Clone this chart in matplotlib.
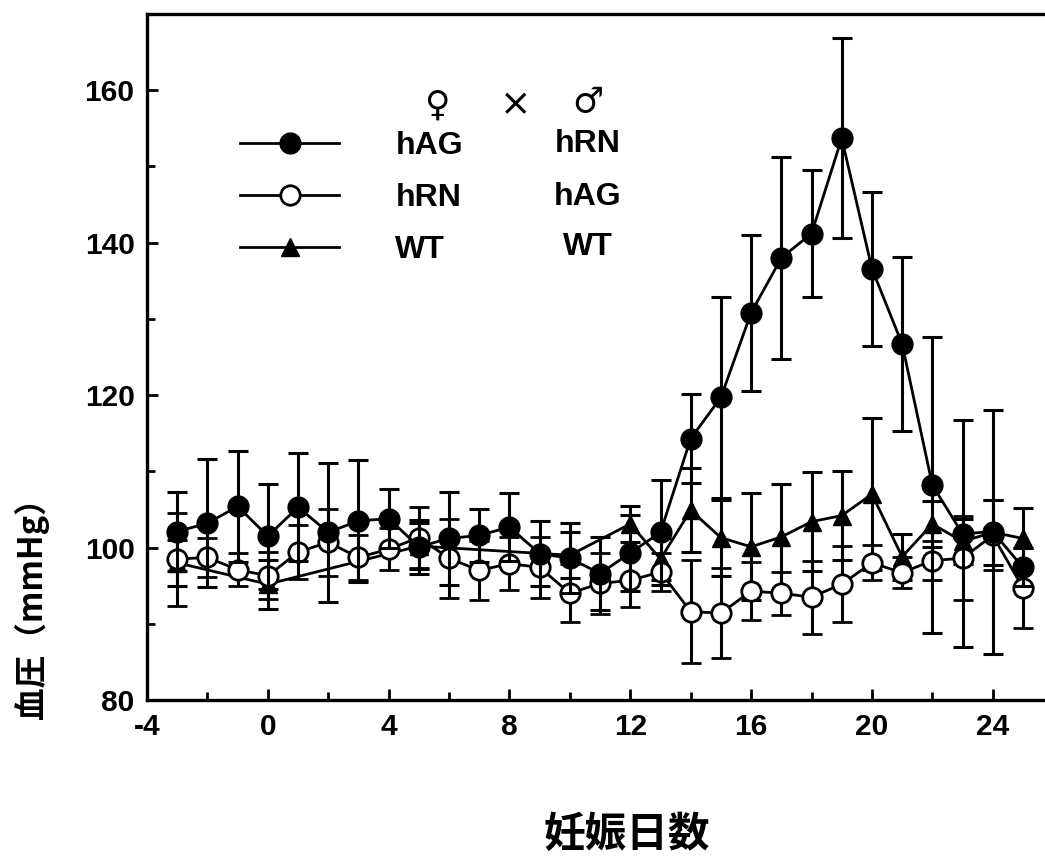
import matplotlib.pyplot as plt
from matplotlib.lines import Line2D
from matplotlib.ticker import MultipleLocator

# --- data ---
days = list(range(-3, 26))

# hAG (female) x hRN (male)  -> filled circles
bp_ag_rn = [102.1, 103.2, 105.4, 101.5, 105.3, 102.0, 103.5, 103.8, 100.1, 101.2,
            101.6, 102.7, 99.2, 98.6, 96.6, 99.3, 102.0, 114.3, 119.7, 130.8,
            138.0, 141.2, 153.7, 136.6, 126.7, 108.2, 101.8, 102.1, 97.4]
err_ag_rn = [5.2, 8.4, 7.3, 6.9, 7.1, 9.1, 8.0, 3.9, 3.5, 6.1,
             3.5, 4.4, 4.3, 4.6, 4.8, 5.0, 6.9, 5.8, 13.2, 10.2,
             13.3, 8.3, 13.1, 10.1, 11.4, 19.4, 14.9, 16.0, 2.5]

# hRN (female) x hAG (male)  -> open circles
bp_rn_ag = [98.5, 98.7, 97.1, 96.3, 99.4, 100.7, 98.7, 99.8, 101.3, 98.6,
            97.0, 97.9, 97.4, 94.0, 95.3, 95.7, 96.8, 91.6, 91.4, 94.3,
            94.0, 93.5, 95.2, 98.0, 96.7, 98.3, 98.6, 101.6, 94.7]
err_rn_ag = [6.1, 2.5, 2.2, 3.1, 3.5, 4.4, 3.0, 2.8, 4.0, 5.2,
             3.9, 3.5, 4.0, 3.8, 4.0, 3.5, 2.5, 6.8, 5.9, 3.8,
             2.8, 4.8, 5.0, 2.3, 2.0, 2.5, 5.5, 4.6, 5.3]

# WT x WT -> triangles
days_wt = [-3, 0, 5, 10, 12, 13, 14, 15, 16, 17, 18, 19, 20, 21, 22, 23, 24, 25]
bp_wt = [98.0, 95.2, 100.2, 99.0, 103.1, 98.5, 104.9, 101.3, 100.1, 101.4,
         103.4, 104.2, 107.0, 98.8, 103.1, 100.8, 102.0, 101.2]
err_wt = [3.0, 3.2, 3.0, 3.0, 2.4, 2.7, 5.5, 5.0, 7.0, 7.0,
          6.5, 5.8, 10.0, 3.0, 3.0, 3.0, 4.3, 4.0]

female = ['hAG', 'hRN', 'WT']
male = ['hRN', 'hAG', 'WT']

plt.rcParams['font.family'] = ['Liberation Sans', 'DejaVu Sans']
plt.rcParams['axes.unicode_minus'] = False

fig = plt.figure(figsize=(10.45, 8.58), dpi=100)
ax = fig.add_axes([0.1407, 0.1841, 0.8593, 0.7996])

eb = dict(color='black', ecolor='black', elinewidth=2.2, capsize=7, capthick=2.2,
          linewidth=2.0)

ax.errorbar(days_wt, bp_wt, yerr=err_wt, marker='^', markersize=13,
            markerfacecolor='black', markeredgecolor='black', zorder=2, **eb)
ax.errorbar(days, bp_rn_ag, yerr=err_rn_ag, marker='o', markersize=14,
            markerfacecolor='white', markeredgecolor='black', markeredgewidth=2.0,
            zorder=3, **eb)
ax.errorbar(days, bp_ag_rn, yerr=err_ag_rn, marker='o', markersize=15,
            markerfacecolor='black', markeredgecolor='black', zorder=4, **eb)

ax.set_xlim(-4, 25.73)
ax.set_ylim(80, 170)
ax.xaxis.set_major_locator(MultipleLocator(4))
ax.xaxis.set_minor_locator(MultipleLocator(2))
ax.yaxis.set_minor_locator(MultipleLocator(10))
ax.set_yticks([80, 100, 120, 140, 160])
ax.tick_params(which='both', direction='in', width=2, top=False, right=False)
ax.tick_params(which='major', length=8, pad=9, labelsize=21.5)
ax.tick_params(which='minor', length=6)
for lab in ax.get_xticklabels() + ax.get_yticklabels():
    lab.set_fontweight('bold')

for s in ['left', 'bottom', 'top']:
    ax.spines[s].set_linewidth(2.4)
ax.spines['right'].set_visible(False)

# legend: handles + female column
handles = [
    Line2D([], [], color='black', lw=2, marker='o', markersize=15, markerfacecolor='black'),
    Line2D([], [], color='black', lw=2, marker='o', markersize=14, markerfacecolor='white',
           markeredgewidth=2.0),
    Line2D([], [], color='black', lw=2, marker='^', markersize=13, markerfacecolor='black'),
]
leg = ax.legend(handles, female, loc='upper left', bbox_to_anchor=(0.104, 0.829),
                frameon=False, handlelength=3.1, handletextpad=1.75,
                labelspacing=0.69, borderpad=0, borderaxespad=0,
                prop={'size': 23, 'weight': 'bold'})

# male column and header
row_y = [0.811, 0.733, 0.660]
for name, yy in zip(male, row_y):
    ax.text(0.491, yy, name, transform=ax.transAxes, ha='center', va='center',
            fontsize=23, fontweight='bold')
ax.text(0.323, 0.867, '♀', transform=ax.transAxes, ha='center', va='center',
        fontsize=25, family='DejaVu Sans')
ax.text(0.410, 0.867, '×', transform=ax.transAxes, ha='center', va='center',
        fontsize=27, family='DejaVu Sans')
ax.text(0.491, 0.871, '♂', transform=ax.transAxes, ha='center', va='center',
        fontsize=25, family='DejaVu Sans')

# axis labels
fig.text(0.030, 0.300, '血圧（mmHg）', rotation=90, ha='center', va='center',
         fontsize=23.5, fontweight='bold', family=['Noto Sans CJK JP', 'DejaVu Sans'])
fig.text(0.600, 0.027, '妊娠日数', ha='center', va='center',
         fontsize=30, fontweight='bold', family=['Noto Sans CJK JP', 'DejaVu Sans'])

fig.savefig('out.png', dpi=100)
